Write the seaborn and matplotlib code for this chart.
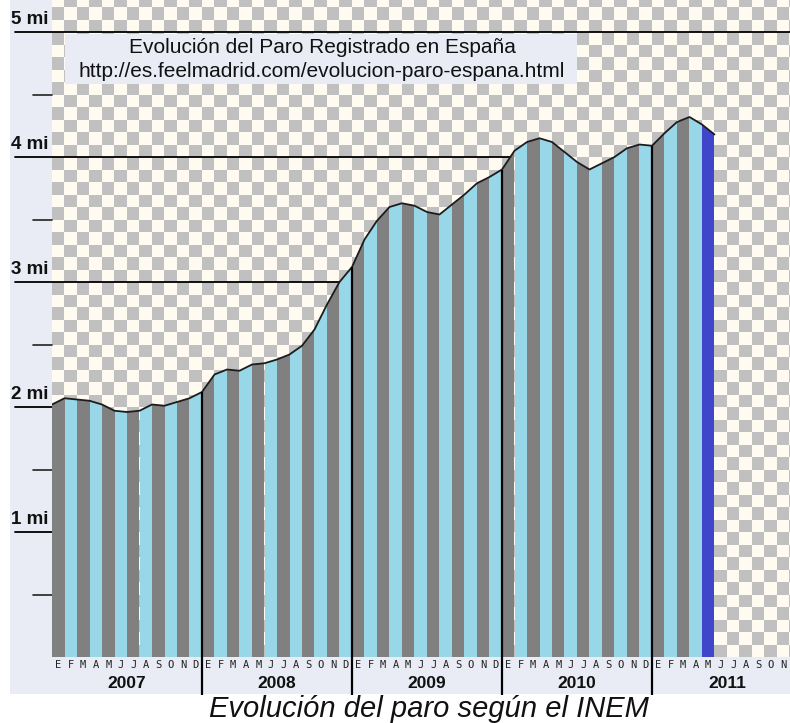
import numpy as np
import seaborn as sns
import matplotlib.pyplot as plt
from matplotlib.patches import Rectangle
from matplotlib.colors import ListedColormap

# paro registrado, millones (dic 2006 + ene 2007 .. may 2011)
dec_2006 = [2.02]
v2007 = [2.07, 2.06, 2.05, 2.02, 1.97, 1.96, 1.97, 2.02, 2.01, 2.04, 2.07, 2.12]
v2008 = [2.26, 2.30, 2.29, 2.34, 2.35, 2.38, 2.42, 2.49, 2.62, 2.82, 3.00, 3.12]
v2009 = [3.34, 3.49, 3.60, 3.63, 3.61, 3.56, 3.54, 3.62, 3.70, 3.79, 3.84, 3.90]
v2010 = [4.05, 4.12, 4.15, 4.12, 4.04, 3.96, 3.90, 3.95, 4.00, 4.07, 4.10, 4.09]
v2011 = [4.19, 4.28, 4.32, 4.26, 4.18]

years = ["2007", "2008", "2009", "2010", "2011"]
month_letters = list("EFMAMJJASOND")
y_labels = ["1 mi", "2 mi", "3 mi", "4 mi", "5 mi"]
title_1 = "Evolución del Paro Registrado en España"
title_2 = "http://es.feelmadrid.com/evolucion-paro-espana.html"
caption = "Evolución del paro según el INEM"

vals = np.array(dec_2006 + v2007 + v2008 + v2009 + v2010 + v2011)
curve_x = np.arange(len(vals))
n_months = len(vals) - 1

sns.set_theme(style="white")
plt.rcParams["font.family"] = ["Liberation Sans", "DejaVu Sans"]

W, H = 790, 723
fig = plt.figure(figsize=(W / 100, H / 100), dpi=100, facecolor="white")
lav = "#e9ecf5"
fig.add_artist(Rectangle((10 / W, 29 / H), 780 / W, 694 / H, transform=fig.transFigure,
                         facecolor=lav, edgecolor="none", zorder=-1))

ax = fig.add_axes([52 / W, 66 / H, 750 / W, 657 / H])
ax.set_axis_off()
ymax = 657 / 125
ax.set_xlim(0, 60)
ax.set_ylim(0, ymax)

# checkerboard background
rows, cols = 53, 60
ii, jj = np.indices((rows, cols))
checker = (ii + jj) % 2
ax.imshow(checker, cmap=ListedColormap(["#fffbf0", "#c0c0c0"]), extent=(0, 60, 0, rows * 0.1),
          origin="lower", interpolation="nearest", aspect="auto", zorder=0)


def first_crossing(level):
    above = np.nonzero(vals >= level)[0]
    if len(above) == 0:
        return 60.0
    k = above[0]
    if k == 0:
        return 0.0
    return k - 1 + (level - vals[k - 1]) / (vals[k] - vals[k - 1])


# grid lines (stop where the area starts) and minor ticks
for k, lab in enumerate(y_labels, start=1):
    xend = first_crossing(k) / 60
    ax.axhline(k, xmin=(15 - 52) / 750, xmax=xend, color="black", lw=1.3, clip_on=False, zorder=1)
    ax.text(-3.25, k + 0.035, lab, fontsize=13.5, fontweight="bold", ha="left", va="bottom",
            color="#111111", clip_on=False)
for k in range(5):
    ax.axhline(k + 0.5, xmin=(33 - 52) / 750, xmax=0, color="#222222", lw=1.2, clip_on=False, zorder=1)

# month stripes clipped under the curve
colors = ["#808080" if i % 2 == 0 else "#98d7e8" for i in range(n_months)]
colors[-1] = "#3f46c9"
area = ax.fill_between(curve_x, vals, 0, color="none", lw=0)
clip = area.get_paths()[0]
bars = ax.bar(np.arange(n_months), ymax, width=1, align="edge", color=colors, lw=0, zorder=2)
for b in bars:
    b.set_clip_path(clip, ax.transData)

sns.lineplot(x=curve_x, y=vals, color="#1c1c1c", lw=1.3, ax=ax, zorder=4)

# year separators
seps = [12, 24, 36, 48]
ax.vlines(seps, -0.30, vals[seps], color="black", lw=1.6, clip_on=False, zorder=5)

# month letters and years
for i in range(60):
    ax.text(i + 0.5, -0.066, month_letters[i % 12], fontsize=7.5, family="DejaVu Sans Mono",
            ha="center", va="center", color="#222222", clip_on=False)
for y, lab in enumerate(years):
    ax.text(y * 12 + 6, -0.21, lab, fontsize=12.5, fontweight="bold", ha="center", va="center",
            color="#111111", clip_on=False)

# title box
ax.add_patch(Rectangle(((65 - 52) / 750, (657 - 84) / 657), 512 / 750, 50 / 657,
                       transform=ax.transAxes, facecolor=lav, edgecolor="none", zorder=6))
ax.text((322 - 52) / 750, (657 - 47.5) / 657, title_1, transform=ax.transAxes, fontsize=15,
        ha="center", va="center", color="#111111", zorder=7)
ax.text((322 - 52) / 750, (657 - 71.5) / 657, title_2, transform=ax.transAxes, fontsize=15,
        ha="center", va="center", color="#111111", zorder=7)

fig.text(429 / W, 1 - 709 / H, caption, fontsize=21, fontstyle="italic", ha="center", va="center",
         color="#111111")

fig.savefig("out.png", dpi=100)
